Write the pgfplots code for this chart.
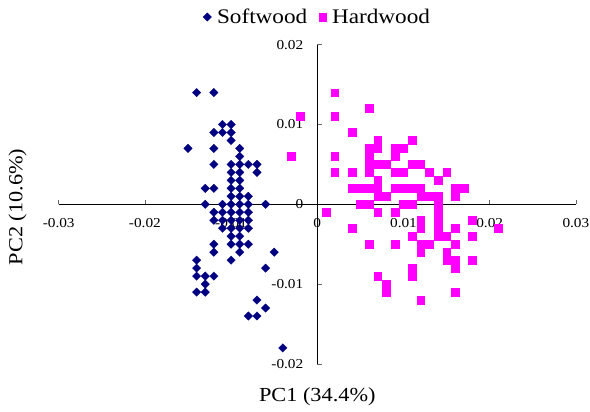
\documentclass[border=0pt]{standalone}
\usepackage{fontspec}
\setmainfont[FakeStretch=1.12]{Liberation Serif}
\usepackage{pgfplots}
\usepackage{pgfplotstable}
\pgfplotsset{compat=1.18}
\usetikzlibrary{calc}

\definecolor{softnavy}{RGB}{0,0,128}
\definecolor{hardpink}{RGB}{255,0,255}

% PCA scores, softwood samples
\pgfplotstableread{
x y
-0.014 0.014
-0.012 0.014
-0.011 0.010
-0.010 0.010
-0.012 0.009
-0.011 0.009
-0.010 0.009
-0.010 0.008
-0.015 0.007
-0.012 0.007
-0.009 0.007
-0.009 0.006
-0.012 0.005
-0.010 0.005
-0.009 0.005
-0.008 0.005
-0.007 0.005
-0.010 0.004
-0.009 0.004
-0.007 0.004
-0.010 0.003
-0.009 0.003
-0.013 0.002
-0.012 0.002
-0.010 0.002
-0.009 0.002
-0.010 0.001
-0.009 0.001
-0.008 0.001
-0.013 0.000
-0.011 0.000
-0.010 0.000
-0.009 0.000
-0.008 0.000
-0.006 0.000
-0.012 -0.001
-0.011 -0.001
-0.010 -0.001
-0.009 -0.001
-0.008 -0.001
-0.012 -0.002
-0.011 -0.002
-0.010 -0.002
-0.009 -0.002
-0.008 -0.002
-0.011 -0.003
-0.010 -0.003
-0.009 -0.003
-0.008 -0.003
-0.010 -0.004
-0.009 -0.004
-0.012 -0.005
-0.010 -0.005
-0.009 -0.005
-0.008 -0.005
-0.012 -0.006
-0.009 -0.006
-0.005 -0.006
-0.014 -0.007
-0.010 -0.007
-0.014 -0.008
-0.006 -0.008
-0.014 -0.009
-0.013 -0.009
-0.012 -0.009
-0.013 -0.010
-0.014 -0.011
-0.013 -0.011
-0.007 -0.012
-0.006 -0.013
-0.008 -0.014
-0.007 -0.014
-0.004 -0.018
}\softwood

% PCA scores, hardwood samples
\pgfplotstableread{
x y
0.002 0.014
0.006 0.012
-0.002 0.011
0.002 0.011
0.004 0.009
0.007 0.008
0.011 0.008
0.006 0.007
0.007 0.007
0.009 0.007
0.010 0.007
-0.003 0.006
0.002 0.006
0.006 0.006
0.009 0.006
0.006 0.005
0.007 0.005
0.008 0.005
0.011 0.005
0.012 0.005
0.002 0.004
0.004 0.004
0.006 0.004
0.009 0.004
0.010 0.004
0.013 0.004
0.015 0.004
0.007 0.003
0.014 0.003
0.004 0.002
0.005 0.002
0.006 0.002
0.007 0.002
0.009 0.002
0.010 0.002
0.011 0.002
0.012 0.002
0.016 0.002
0.017 0.002
0.007 0.001
0.008 0.001
0.012 0.001
0.013 0.001
0.014 0.001
0.016 0.001
0.005 0.000
0.006 0.000
0.010 0.000
0.011 0.000
0.014 0.000
0.001 -0.001
0.007 -0.001
0.009 -0.001
0.014 -0.001
0.012 -0.002
0.014 -0.002
0.018 -0.002
0.004 -0.003
0.012 -0.003
0.014 -0.003
0.016 -0.003
0.021 -0.003
0.011 -0.004
0.014 -0.004
0.015 -0.004
0.018 -0.004
0.006 -0.005
0.009 -0.005
0.012 -0.005
0.013 -0.005
0.016 -0.005
0.012 -0.006
0.015 -0.006
0.015 -0.007
0.016 -0.007
0.018 -0.007
0.011 -0.008
0.016 -0.008
0.007 -0.009
0.011 -0.009
0.008 -0.010
0.008 -0.011
0.016 -0.011
0.012 -0.012
}\hardwood

\begin{document}
\begin{tikzpicture}
\begin{axis}[
    name=ax,
    scale only axis,
    width=517.2bp, height=319.2bp,
    xmin=-0.03, xmax=0.03, ymin=-0.02, ymax=0.02,
    axis lines=middle,
    axis line style={-, line width=0.9bp, black},
    every inner x axis line/.append style={-},
    every inner y axis line/.append style={-},
    scaled ticks=false,
    xtick={-0.03,-0.02,-0.01,0,0.01,0.02,0.03},
    xticklabels={-0.03,-0.02,-0.01,0,0.01,0.02,0.03},
    ytick={-0.02,-0.01,0,0.01,0.02},
    yticklabels={-0.02,-0.01,0,0.01,0.02},
    tick align=inside,
    major tick length=4.5bp,
    tick style={black!60, line width=0.6bp},
    ticklabel style={font=\fontsize{13.7}{16}\selectfont},
    xticklabel style={anchor=north, yshift=-10.4bp},
    yticklabel style={anchor=east, xshift=-10.5bp},
    clip=false,
    legend columns=2,
    legend style={at={(0.5,1)}, anchor=center, yshift=27.7bp,
        draw=none, fill=none, inner sep=0pt,
        nodes={inner sep=1.5bp},
        font=\fontsize{20.8}{24}\selectfont,
        /tikz/every odd column/.append style={column sep=4bp},
        /tikz/every even column/.append style={column sep=10bp}},
]
\addplot[only marks, mark=square*, mark size=3pt,
    mark options={rotate=45, draw=softnavy, fill=softnavy, line width=0.3bp}]
    table[x=x, y=y] {\softwood};
\addlegendentry{Softwood}
\addplot[only marks, mark=square*, mark size=3.9pt,
    mark options={draw=hardpink, fill=hardpink, line width=0.3bp}]
    table[x=x, y=y] {\hardwood};
\addlegendentry{Hardwood}
% zero labels that the centred axis lines leave out
\node[font=\fontsize{13.7}{16}\selectfont, anchor=north, inner sep=0.3333em, yshift=-10.4bp]
    at (axis cs:0,0) {0};
\node[font=\fontsize{13.7}{16}\selectfont, anchor=east, inner sep=0.3333em, xshift=-10.5bp]
    at (axis cs:0,0) {0};
\end{axis}
\node[font=\fontsize{20}{24}\selectfont] at ($(ax.south)+(0,-33bp)$) {PC1 (34.4\%)};
\node[font=\fontsize{20}{24}\selectfont, rotate=90] at ($(ax.west)+(-41.2bp,-2.6bp)$) {PC2 (10.6\%)};
\pgfresetboundingbox
\path[use as bounding box] ($(ax.south west)+(-58.7bp,-48.1bp)$) rectangle ($(ax.north east)+(14.1bp,44.7bp)$);
\end{tikzpicture}
\end{document}
